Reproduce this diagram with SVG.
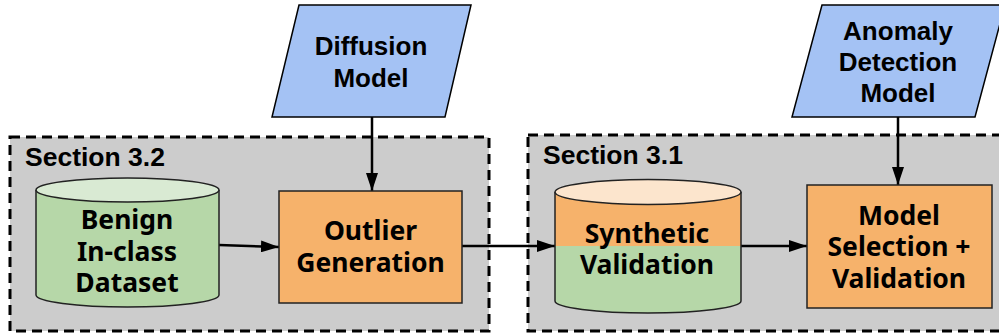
<svg xmlns="http://www.w3.org/2000/svg" width="999" height="335" viewBox="0 0 999 335">
  <defs>
    <marker id="arrow" markerUnits="userSpaceOnUse" markerWidth="18" markerHeight="12" refX="18" refY="6" orient="auto">
      <path d="M0,0 L18,6 L0,12 z" fill="#000"/>
    </marker>
    <style>
      .section { fill: #cccccc; stroke: #000; stroke-width: 3; stroke-dasharray: 10 6; }
      .sec-label { font-family: "Liberation Sans", Arial, sans-serif; font-weight: bold; font-size: 26.5px; fill: #000; }
      .input { fill: #a4c2f4; stroke: #000; stroke-width: 1.5; }
      .input-label { font-family: "Liberation Sans", Arial, sans-serif; font-weight: bold; font-size: 26px; fill: #000; text-anchor: middle; }
      .proc { fill: #f6b26b; stroke: #222; stroke-width: 1.5; }
      .label { font-family: "Noto Sans", "Open Sans", sans-serif; font-weight: bold; font-size: 26.5px; fill: #000; text-anchor: middle; }
      .edge { stroke: #000; stroke-width: 2.5; fill: none; marker-end: url(#arrow); }
      .outline { fill: none; stroke: #222; stroke-width: 1.5; }
    </style>
  </defs>

  <!-- section containers -->
  <g id="section-3-2">
    <rect class="section" x="10" y="137" width="479" height="194"/>
    <text class="sec-label" x="25" y="166">Section 3.2</text>
  </g>
  <g id="section-3-1">
    <rect class="section" x="528" y="135" width="490" height="196"/>
    <text class="sec-label" x="543" y="164">Section 3.1</text>
  </g>

  <!-- connectors -->
  <g id="connectors">
    <line class="edge" x1="372" y1="117" x2="372" y2="191"/>
    <line class="edge" x1="898" y1="117" x2="898" y2="185"/>
    <line class="edge" x1="219" y1="245" x2="279" y2="247"/>
    <line class="edge" x1="462" y1="246" x2="555" y2="246"/>
    <line class="edge" x1="741" y1="246" x2="807" y2="246"/>
  </g>

  <!-- model inputs -->
  <g id="diffusion-model">
    <polygon class="input" points="299,5 471,5 445,117 272,117"/>
    <text class="input-label" x="371" y="55">Diffusion</text>
    <text class="input-label" x="371" y="87">Model</text>
  </g>
  <g id="anomaly-detection-model">
    <polygon class="input" points="822,5 1005,5 975,117 792,117"/>
    <text class="input-label" x="898" y="40">Anomaly</text>
    <text class="input-label" x="898" y="71">Detection</text>
    <text class="input-label" x="898" y="102">Model</text>
  </g>

  <!-- benign dataset cylinder -->
  <g id="benign-dataset">
    <path d="M36,190 L36,295 A91.5,12 0 0 0 219,295 L219,190 z" fill="#b6d7a8"/>
    <path class="outline" d="M36,190 L36,295 A91.5,12 0 0 0 219,295 L219,190"/>
    <ellipse cx="127.5" cy="190" rx="91.5" ry="12" fill="#d9ead3" stroke="#222" stroke-width="1.5"/>
    <text class="label" x="127" y="229">Benign</text>
    <text class="label" x="127" y="261">In-class</text>
    <text class="label" x="127" y="292">Dataset</text>
  </g>

  <g id="outlier-generation">
    <rect class="proc" x="279" y="191" width="183" height="112"/>
    <text class="label" x="370.5" y="240">Outlier</text>
    <text class="label" x="370.5" y="272">Generation</text>
  </g>

  <!-- synthetic validation cylinder: orange upper half, green lower half -->
  <g id="synthetic-validation">
    <path d="M555,246 L555,301 A93,12 0 0 0 741,301 L741,246 z" fill="#b6d7a8"/>
    <path d="M555,192 L555,246 L741,246 L741,192 z" fill="#f6b26b"/>
    <path class="outline" d="M555,192 L555,301 A93,12 0 0 0 741,301 L741,192"/>
    <ellipse cx="648" cy="192" rx="93" ry="12.5" fill="#fce5cd" stroke="#222" stroke-width="1.5"/>
    <text class="label" x="647" y="243">Synthetic</text>
    <text class="label" x="647" y="274">Validation</text>
  </g>

  <g id="model-selection">
    <rect class="proc" x="807" y="185" width="185" height="123"/>
    <text class="label" x="899" y="225">Model</text>
    <text class="label" x="899" y="256">Selection +</text>
    <text class="label" x="899" y="288">Validation</text>
  </g>
</svg>
